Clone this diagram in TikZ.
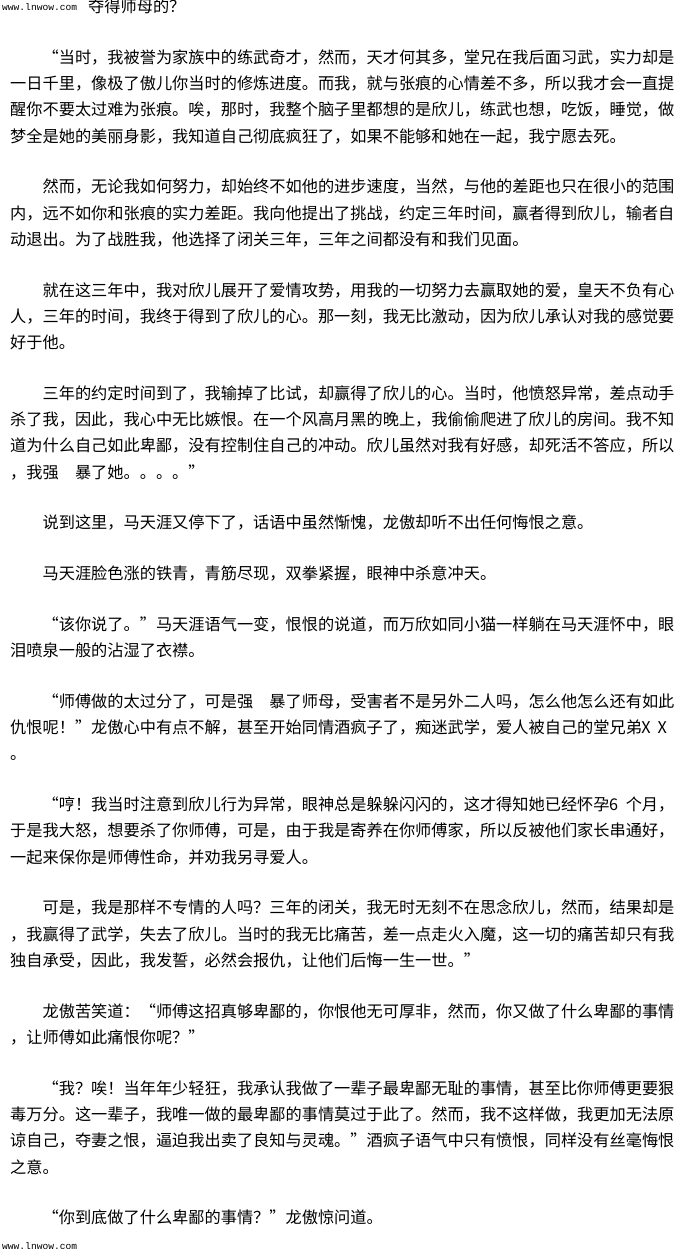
\documentclass[tikz,border=0pt]{standalone}
\usepackage{fontspec}
\newfontfamily\cjk{Noto Sans CJK SC}
\newfontfamily\cjkfw[RawFeature=+fwid]{Noto Sans CJK SC}
\newfontfamily\webmono{Liberation Mono}
\newdimen\ycur
\newcount\lncount
\newcommand\Lqt{{\cjkfw “}}
\newcommand\Rqt{{\cjkfw ”}}
\newcommand\hw[1]{\makebox[8.1pt]{#1}}
\newcommand\Ln[2]{\global\advance\lncount by 1\relax
  \node[ln] (l\the\lncount) at (#1pt,-\ycur) {#2};
  \global\advance\ycur by 26.3pt\relax}
\newcommand\Pgap{\global\advance\ycur by 24.4pt\relax}
\begin{document}
\begin{tikzpicture}[x=1pt,y=1pt,
  ln/.style={anchor=west, inner sep=0pt, text height=14.26pt, text depth=1.94pt,
    font=\cjk\fontsize{16.2pt}{16.2pt}\selectfont},
  web/.style={anchor=west, inner sep=0pt, font=\webmono\fontsize{9.6pt}{10pt}\selectfont}]
\fill[white] (0,0) rectangle (680,-1255);
\useasboundingbox (0,0) rectangle (680,-1255);
\node[web] (hdr) at (2,-7) {www.lnwow.com};
\node[ln] (hdrcjk) at (88,-6) {夺得师母的？};
\global\ycur=57pt
% P1
\Ln{42.4}{\Lqt 当时，我被誉为家族中的练武奇才，然而，天才何其多，堂兄在我后面习武，实力却是}
\Ln{10}{一日千里，像极了傲儿你当时的修炼进度。而我，就与张痕的心情差不多，所以我才会一直提}
\Ln{10}{醒你不要太过难为张痕。唉，那时，我整个脑子里都想的是欣儿，练武也想，吃饭，睡觉，做}
\Ln{10}{梦全是她的美丽身影，我知道自己彻底疯狂了，如果不能够和她在一起，我宁愿去死。}
\Pgap
% P2
\Ln{42.4}{然而，无论我如何努力，却始终不如他的进步速度，当然，与他的差距也只在很小的范围}
\Ln{10}{内，远不如你和张痕的实力差距。我向他提出了挑战，约定三年时间，赢者得到欣儿，输者自}
\Ln{10}{动退出。为了战胜我，他选择了闭关三年，三年之间都没有和我们见面。}
\Pgap
% P3
\Ln{42.4}{就在这三年中，我对欣儿展开了爱情攻势，用我的一切努力去赢取她的爱，皇天不负有心}
\Ln{10}{人，三年的时间，我终于得到了欣儿的心。那一刻，我无比激动，因为欣儿承认对我的感觉要}
\Ln{10}{好于他。}
\Pgap
% P4
\Ln{42.4}{三年的约定时间到了，我输掉了比试，却赢得了欣儿的心。当时，他愤怒异常，差点动手}
\Ln{10}{杀了我，因此，我心中无比嫉恨。在一个风高月黑的晚上，我偷偷爬进了欣儿的房间。我不知}
\Ln{10}{道为什么自己如此卑鄙，没有控制住自己的冲动。欣儿虽然对我有好感，却死活不答应，所以}
\Ln{10}{，我强　暴了她。。。。\Rqt}
\Pgap
% P5
\Ln{42.4}{说到这里，马天涯又停下了，话语中虽然惭愧，龙傲却听不出任何悔恨之意。}
\Pgap
% P6
\Ln{42.4}{马天涯脸色涨的铁青，青筋尽现，双拳紧握，眼神中杀意冲天。}
\Pgap
% P7
\Ln{42.4}{\Lqt 该你说了。\Rqt 马天涯语气一变，恨恨的说道，而万欣如同小猫一样躺在马天涯怀中，眼}
\Ln{10}{泪喷泉一般的沾湿了衣襟。}
\Pgap
% P8
\Ln{42.4}{\Lqt 师傅做的太过分了，可是强　暴了师母，受害者不是另外二人吗，怎么他怎么还有如此}
\Ln{10}{仇恨呢！\Rqt 龙傲心中有点不解，甚至开始同情酒疯子了，痴迷武学，爱人被自己的堂兄弟\hw{X}\hw{}\hw{X}}
\Ln{10}{。}
\Pgap
% P9
\Ln{42.4}{\Lqt 哼！我当时注意到欣儿行为异常，眼神总是躲躲闪闪的，这才得知她已经怀孕\hw{6}\hw{}个月，}
\Ln{10}{于是我大怒，想要杀了你师傅，可是，由于我是寄养在你师傅家，所以反被他们家长串通好，}
\Ln{10}{一起来保你是师傅性命，并劝我另寻爱人。}
\Pgap
% P10
\Ln{42.4}{可是，我是那样不专情的人吗？三年的闭关，我无时无刻不在思念欣儿，然而，结果却是}
\Ln{10}{，我赢得了武学，失去了欣儿。当时的我无比痛苦，差一点走火入魔，这一切的痛苦却只有我}
\Ln{10}{独自承受，因此，我发誓，必然会报仇，让他们后悔一生一世。\Rqt}
\Pgap
% P11
\Ln{42.4}{龙傲苦笑道：\Lqt 师傅这招真够卑鄙的，你恨他无可厚非，然而，你又做了什么卑鄙的事情}
\Ln{10}{，让师傅如此痛恨你呢？\Rqt}
\Pgap
% P12
\Ln{42.4}{\Lqt 我？唉！当年年少轻狂，我承认我做了一辈子最卑鄙无耻的事情，甚至比你师傅更要狠}
\Ln{10}{毒万分。这一辈子，我唯一做的最卑鄙的事情莫过于此了。然而，我不这样做，我更加无法原}
\Ln{10}{谅自己，夺妻之恨，逼迫我出卖了良知与灵魂。\Rqt 酒疯子语气中只有愤恨，同样没有丝毫悔恨}
\Ln{10}{之意。}
\Pgap
% P13
\Ln{42.4}{\Lqt 你到底做了什么卑鄙的事情？\Rqt 龙傲惊问道。}
\node[web] (ftr) at (2,-1246) {www.lnwow.com};
\end{tikzpicture}
\end{document}
